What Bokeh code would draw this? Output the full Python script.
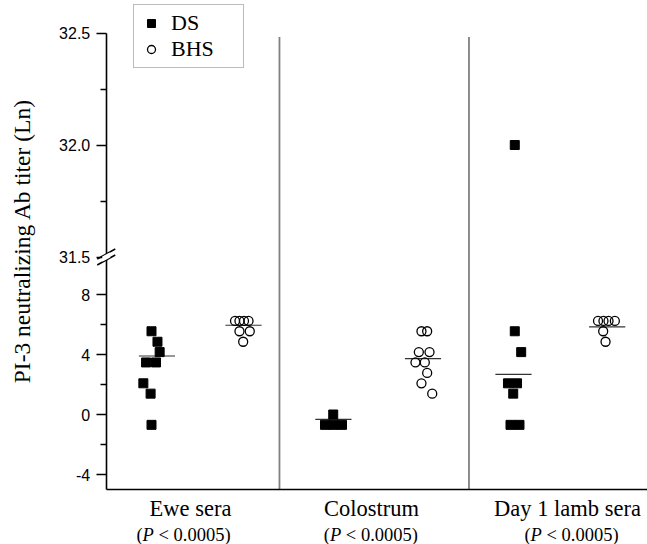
import math
from bokeh.plotting import figure
from bokeh.models import (ColumnDataSource, FixedTicker, CustomJSTickFormatter, CustomJSTransform,
                          Label, Legend, LegendItem, PolyAnnotation, Range1d, LinearAxis)
from bokeh.transform import transform
from bokeh.embed import file_html
from bokeh.resources import INLINE

# ---------------- data ----------------
groups = ["Ewe sera", "Colostrum", "Day 1 lamb sera"]
series = ["DS", "BHS"]
p_note = "< 0.0005)"
y_title = "PI-3 neutralizing Ab titer (Ln)"

ewe_ds = [5.55, 4.85, 4.16, 3.47, 3.47, 2.08, 1.39, -0.69]
ewe_bhs = [6.24, 6.24, 6.24, 6.24, 5.55, 5.55, 4.85]
col_ds = [0.0, -0.69, -0.69, -0.69]
col_bhs = [5.55, 5.55, 4.16, 4.16, 3.47, 3.47, 2.77, 2.08, 1.39]
d1_ds = [32.0, 5.55, 4.16, 2.08, 2.08, 1.39, -0.69, -0.69]
d1_bhs = [6.24, 6.24, 6.24, 6.24, 5.55, 4.85]

# horizontal scatter of overlapping points (as seen in the picture)
ewe_ds_jit = [0.0, 0.066, 0.09, -0.06, 0.05, -0.09, -0.01, 0.0]
ewe_bhs_jit = [-0.077, -0.028, 0.022, 0.072, -0.028, 0.086, 0.013]
col_ds_jit = [0.008, -0.083, 0.011, 0.105]
col_bhs_jit = [-0.017, 0.046, -0.046, 0.072, -0.083, 0.02, 0.046, -0.017, 0.102]
d1_ds_jit = [0.014, 0.014, 0.085, -0.061, 0.039, -0.003, -0.033, 0.066]
d1_bhs_jit = [-0.066, -0.006, 0.05, 0.12, -0.009, 0.017]

ds_means = [3.9, -0.33, 2.67]
bhs_means = [5.95, 3.73, 5.84]
ds_mean_shift = [0.06, 0.01, 0.0]
bhs_mean_shift = [0.017, 0.0, 0.035]

lower_ticks = [-4, 0, 4, 8]
lower_minor = [-2, 2, 6]
upper_ticks = [31.5, 32.0, 32.5]
upper_minor = [31.75, 32.25]

# ---------------- broken axis scale ----------------
LOW_BOT, LOW_TOP = -5.0, 10.5
UP_BOT, UP_TOP = 31.5, 32.5
K = 224.0 / 15.0          # stretch of the upper segment
CUT = 20.0

def to_disp(v):
    return v if v < CUT else LOW_TOP + (v - UP_BOT) * K

Y_END = to_disp(UP_TOP)

brk = CustomJSTransform(
    args=dict(cut=CUT, low_top=LOW_TOP, up_bot=UP_BOT, k=K),
    func="return x > cut ? low_top + (x - up_bot) * k : x;",
    v_func="""
const out = new Float64Array(xs.length);
for (let i = 0; i < xs.length; i++) {
  const v = xs[i];
  out[i] = v > cut ? low_top + (v - up_bot) * k : v;
}
return out;
""")

# ---------------- positions ----------------
ds_pos = [1, 3, 5]
bhs_pos = [2, 4, 6]
X0 = 0.5                     # left spine
PX_X = 1.0 / 90.5            # data units per pixel
PX_Y = 1.0 / 15.0

def build(vals_list, jits_list, poss):
    xs, ys = [], []
    for vals, jits, pos in zip(vals_list, jits_list, poss):
        for v, j in zip(vals, jits):
            xs.append(pos + j)
            ys.append(v)
    return ColumnDataSource(dict(x=xs, y=ys))

src_ds = build([ewe_ds, col_ds, d1_ds], [ewe_ds_jit, col_ds_jit, d1_ds_jit], ds_pos)
src_bhs = build([ewe_bhs, col_bhs, d1_bhs], [ewe_bhs_jit, col_bhs_jit, d1_bhs_jit], bhs_pos)

HW = 0.2
mean_c = [q + s for q, s in zip(ds_pos + bhs_pos, ds_mean_shift + bhs_mean_shift)]
src_mean = ColumnDataSource(dict(
    x0=[c - HW for c in mean_c],
    x1=[c + HW for c in mean_c],
    m=ds_means + bhs_means))

SERIF = "Liberation Serif"
SANS = "Liberation Sans"

X_START = 1 - 151 * PX_X
X_END = 1 + 496 * PX_X
Y_START = LOW_BOT - 55 * PX_Y
Y_STOP = LOW_BOT + 489 * PX_Y

p = figure(width=647, height=544, x_range=Range1d(X_START, X_END), y_range=Range1d(Y_START, Y_STOP),
           output_backend="svg", toolbar_location=None, x_axis_location=None, y_axis_location=None,
           min_border=0)
p.grid.visible = False
p.outline_line_color = None
p.background_fill_color = "white"
p.border_fill_color = "white"

# separators
p.segment(x0=[2.414, 4.508], y0=[LOW_BOT, LOW_BOT], x1=[2.414, 4.508], y1=[Y_END - 4 * PX_Y] * 2,
          line_color="#808080", line_width=1.8)

# means
p.segment(x0="x0", y0=transform("m", brk), x1="x1", y1=transform("m", brk), source=src_mean,
          line_color="#333333", line_width=1.2)

r_ds = p.scatter(x="x", y=transform("y", brk), source=src_ds, marker="square", size=9,
                 fill_color="black", line_color="black", line_width=1)
r_bhs = p.scatter(x="x", y=transform("y", brk), source=src_bhs, marker="circle", size=9,
                  fill_color=None, line_color="black", line_width=1.3)

# y axis (fixed inside the frame)
yax = LinearAxis(fixed_location=X0, bounds=(LOW_BOT, Y_END))
yax.ticker = FixedTicker(ticks=[to_disp(t) for t in lower_ticks + upper_ticks],
                         minor_ticks=[to_disp(t) for t in lower_minor + upper_minor])
yax.formatter = CustomJSTickFormatter(args=dict(low_top=LOW_TOP, up_bot=UP_BOT, k=K), code="""
if (tick > low_top - 0.01) { return (up_bot + (tick - low_top) / k).toFixed(1); }
return tick.toFixed(0);
""")
yax.axis_line_color = "black"
yax.axis_line_width = 1.6
yax.major_tick_line_color = "black"
yax.major_tick_line_width = 1.6
yax.major_tick_out = 10
yax.major_tick_in = 0
yax.minor_tick_line_color = "black"
yax.minor_tick_line_width = 1.6
yax.minor_tick_out = 6
yax.minor_tick_in = 0
yax.major_label_standoff = 6
yax.major_label_text_font = SANS
yax.major_label_text_font_size = "16px"
yax.major_label_text_color = "black"
p.add_layout(yax, "left")

# x axis: only the baseline
xax = LinearAxis(fixed_location=LOW_BOT, bounds=(X0, X_END))
xax.ticker = FixedTicker(ticks=[])
xax.major_tick_line_color = None
xax.minor_tick_line_color = None
xax.major_label_text_font_size = "0px"
xax.axis_line_color = "black"
xax.axis_line_width = 1.6
p.add_layout(xax, "below")

# axis break marks
for off in (3, -3):
    p.line(x=[X0 - 9 * PX_X, X0 + 9 * PX_X],
           y=[LOW_TOP + (off - 5) * PX_Y, LOW_TOP + (off + 5) * PX_Y],
           line_color="black", line_width=1.5, level="overlay")
p.add_layout(PolyAnnotation(
    xs=[X0 - 4 * PX_X, X0 + 4 * PX_X, X0 + 4 * PX_X, X0 - 4 * PX_X],
    ys=[LOW_TOP - 4.8 * PX_Y, LOW_TOP - 0.6 * PX_Y, LOW_TOP + 4.8 * PX_Y, LOW_TOP + 0.6 * PX_Y],
    fill_color="white", fill_alpha=1, line_color=None, level="overlay"))

# y axis title
p.add_layout(Label(x=1 + (21 - 151) * PX_X, y=LOW_BOT + (489 - 240.5) * PX_Y, angle=math.pi / 2,
                   text=y_title, text_font=SERIF, text_font_size="23.5px",
                   text_align="center", text_baseline="middle", text_color="black"))

# category labels
label_x = [1.431, 3.431, 5.597]
note_x = [1.354, 3.424, 5.641]
FS = 18.5
start = -0.5 * (0.333 + 0.611 + 0.25 + 3.897) * FS
y_cat = LOW_BOT - (507.6 - 489) * PX_Y
y_note = LOW_BOT - (534.8 - 489) * PX_Y
for g, lx, nx in zip(groups, label_x, note_x):
    p.add_layout(Label(x=lx, y=y_cat, text=g, text_font=SERIF, text_font_size="22.5px",
                       text_align="center", text_baseline="middle", text_color="black"))
    p.add_layout(Label(x=nx, y=y_note, x_offset=start, text="(", text_font=SERIF,
                       text_font_size=f"{FS}px", text_align="left", text_baseline="middle",
                       text_color="black"))
    p.add_layout(Label(x=nx, y=y_note, x_offset=start + 0.333 * FS, text="P",
                       text_font=SERIF, text_font_style="italic", text_font_size=f"{FS}px",
                       text_align="left", text_baseline="middle", text_color="black"))
    p.add_layout(Label(x=nx, y=y_note, x_offset=start + (0.333 + 0.611 + 0.25) * FS,
                       text=p_note, text_font=SERIF, text_font_size=f"{FS}px",
                       text_align="left", text_baseline="middle", text_color="black"))

legend = Legend(items=[LegendItem(label=series[0], renderers=[r_ds]),
                       LegendItem(label=series[1], renderers=[r_bhs])],
                location=(133, 476), label_text_font=SERIF, label_text_font_size="22px",
                label_text_color="black",
                padding=5, spacing=0, glyph_width=24, glyph_height=20, label_standoff=8,
                label_width=67, label_height=20, border_line_color="#777777", border_line_width=1.2,
                background_fill_color="white", background_fill_alpha=1, margin=0)
p.add_layout(legend)

open("out.html", "w").write(file_html(p, INLINE))
